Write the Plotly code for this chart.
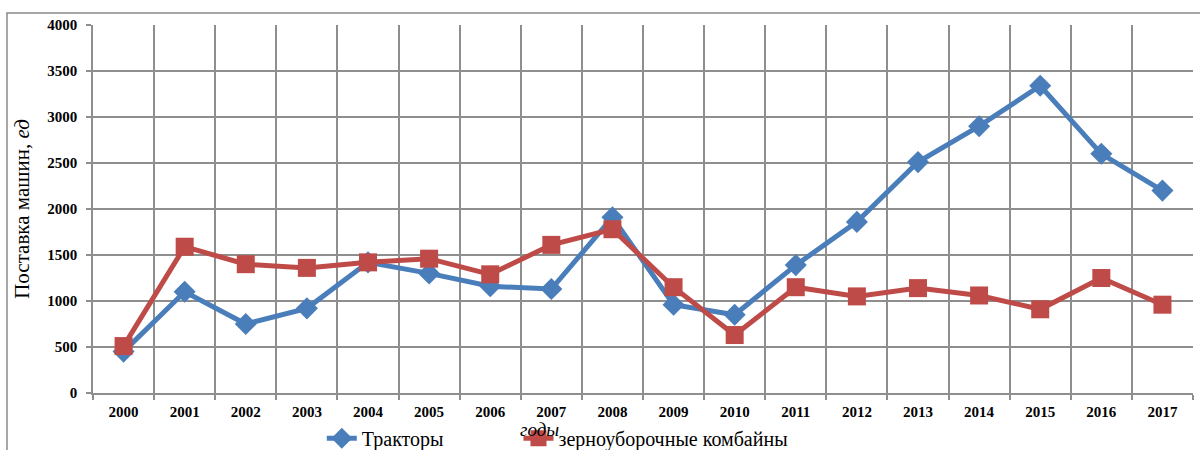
import plotly.graph_objects as go

years = [str(y) for y in range(2000, 2018)]
tractors = [450, 1100, 750, 920, 1420, 1300, 1160, 1130, 1910, 960, 850,
            1390, 1860, 2510, 2900, 3340, 2600, 2200]
combines = [510, 1590, 1400, 1360, 1420, 1460, 1290, 1610, 1780, 1150, 630,
            1150, 1050, 1140, 1060, 910, 1250, 960]

y_ticks = [0, 500, 1000, 1500, 2000, 2500, 3000, 3500, 4000]

BLUE = "#4a7ebb"
RED = "#be4b48"
GRID = "#8e8e8e"
SERIF = "Liberation Serif, Times New Roman, serif"
NBSP = "\u00a0"

fig = go.Figure()
fig.add_trace(go.Scatter(
    x=years, y=tractors, name="Тракторы" + NBSP * 14, mode="lines+markers",
    line=dict(color=BLUE, width=5),
    marker=dict(symbol="diamond", size=17, color=BLUE),
))
fig.add_trace(go.Scatter(
    x=years, y=combines, name="зерноуборочные комбайны", mode="lines+markers",
    line=dict(color=RED, width=5),
    marker=dict(symbol="square", size=18, color=RED),
))

# outer chart frame (left and top edges visible)
fig.add_shape(type="rect", xref="paper", yref="paper",
              x0=-0.0782, x1=1.2, y0=-0.3, y1=1.0326,
              line=dict(color="#8a8a8a", width=1.5), fillcolor="rgba(0,0,0,0)",
              layer="below")

# x-axis title
fig.add_annotation(text="<i>годы</i>", xref="paper", yref="paper",
                   x=0.406, y=-0.098, xanchor="center", yanchor="middle",
                   showarrow=False, font=dict(size=19, family=SERIF, color="black"))

fig.update_layout(
    width=1200, height=450,
    margin=dict(l=93, r=7, t=25, b=57, autoexpand=False),
    paper_bgcolor="white", plot_bgcolor="white",
    font=dict(family=SERIF, color="black"),
    showlegend=True,
    legend=dict(orientation="h", x=0.208, xanchor="left", y=-0.07, yanchor="top",
                font=dict(size=20, family=SERIF),
                tracegroupgap=0, bgcolor="rgba(0,0,0,0)"),
    xaxis=dict(
        type="category", tickson="boundaries", automargin=False,
        showgrid=True, gridcolor=GRID, gridwidth=1.5,
        showline=True, linecolor=GRID, linewidth=1.5,
        ticks="outside", ticklen=5, tickcolor=GRID, tickwidth=1.5,
        tickfont=dict(size=15, family=SERIF, color="black", weight="bold"),
        ticklabelstandoff=4,
        range=[-0.5, 17.5],
    ),
    yaxis=dict(
        range=[0, 4000], tickvals=y_ticks, automargin=False,
        showgrid=True, gridcolor=GRID, gridwidth=1.5,
        showline=True, linecolor=GRID, linewidth=1.5,
        ticks="outside", ticklen=5, tickcolor=GRID, tickwidth=1.5,
        tickfont=dict(size=15, family=SERIF, color="black", weight="bold"),
        ticklabelstandoff=6,
        title=dict(text="Поставка машин, <i>ед</i>", font=dict(size=21, family=SERIF),
                   standoff=12),
        zeroline=False,
    ),
)

fig.write_html("out.html")
